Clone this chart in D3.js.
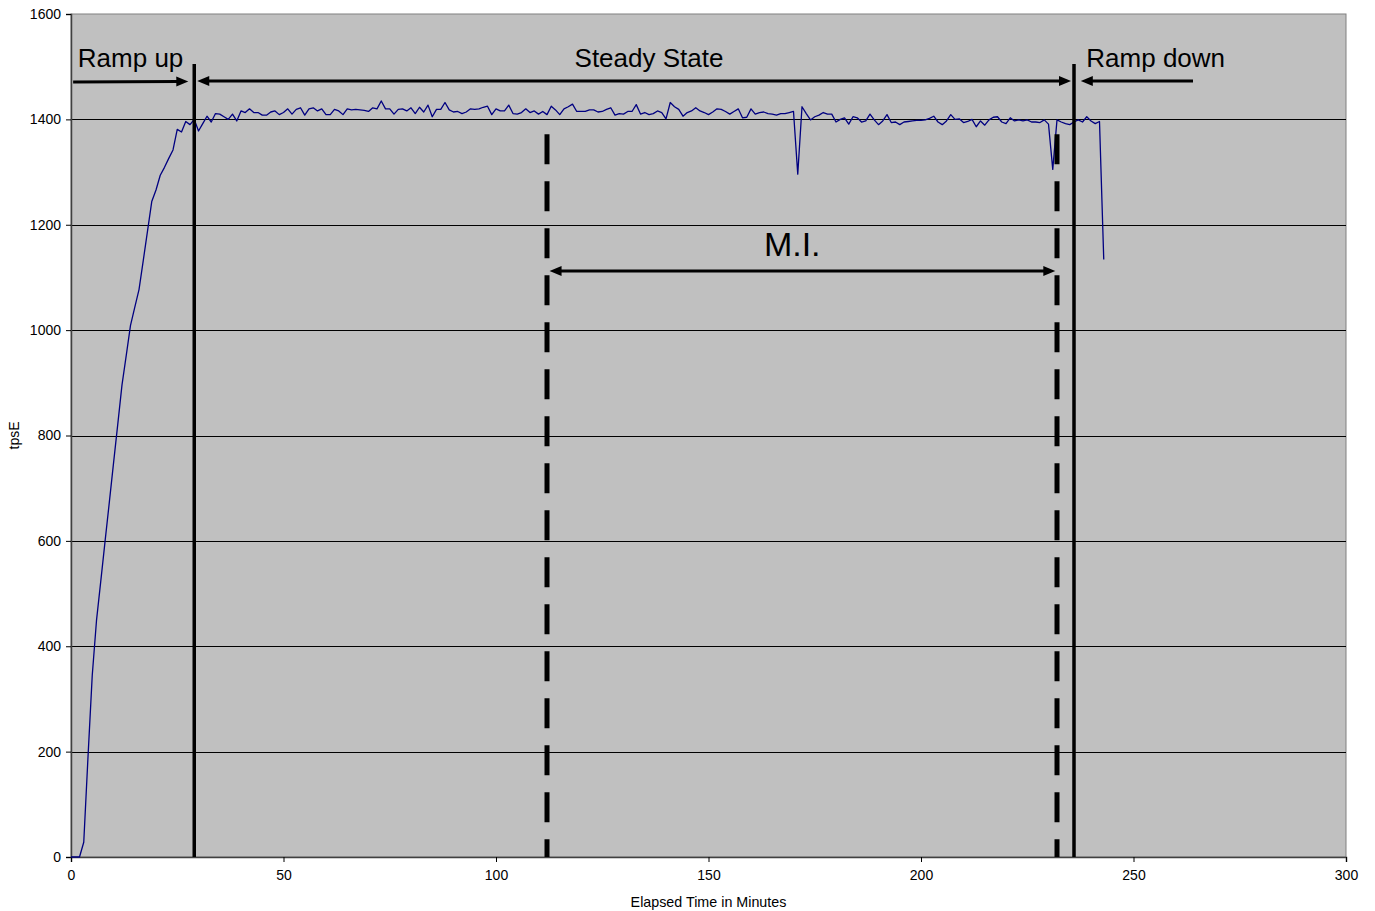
<!DOCTYPE html>
<html>
<head>
<meta charset="utf-8">
<script src="https://cdn.jsdelivr.net/npm/d3@7"></script>
<style>
  html, body { margin: 0; padding: 0; background: #ffffff; }
  svg { display: block; font-family: Arial, "Liberation Sans", sans-serif; }
</style>
</head>
<body>
<svg id="chart" width="1375" height="911"></svg>
<script>
// ---- data ----
const minutes = d3.range(0, 244); // elapsed minute of each sample
const tpsE = [
  0, 0, 0, 28, 190, 345, 449, 523, 598, 672,
  747, 821, 896, 952, 1009, 1043, 1077, 1132, 1188, 1244,
  1266, 1294, 1309, 1326, 1342, 1381, 1376, 1396, 1390, 1400,
  1378, 1392, 1406, 1395, 1411, 1410, 1405, 1400, 1410, 1397,
  1416, 1413, 1420, 1413, 1413, 1408, 1408, 1414, 1416, 1409,
  1413, 1420, 1410, 1419, 1422, 1408, 1420, 1422, 1416, 1420,
  1409, 1409, 1419, 1416, 1409, 1420, 1418, 1419, 1418, 1417,
  1415, 1422, 1420, 1435, 1420, 1420, 1410, 1419, 1420, 1416,
  1422, 1411, 1423, 1414, 1427, 1405, 1419, 1419, 1432, 1418,
  1414, 1415, 1411, 1414, 1420, 1419, 1420, 1423, 1425, 1409,
  1420, 1416, 1416, 1427, 1411, 1410, 1413, 1420, 1413, 1416,
  1410, 1415, 1409, 1425, 1418, 1409, 1420, 1424, 1429, 1415,
  1415, 1415, 1418, 1418, 1414, 1415, 1419, 1422, 1408, 1411,
  1410, 1415, 1415, 1428, 1410, 1413, 1409, 1411, 1416, 1413,
  1401, 1432, 1424, 1419, 1406, 1413, 1416, 1422, 1416, 1413,
  1409, 1414, 1420, 1419, 1415, 1410, 1415, 1420, 1403, 1404,
  1420, 1410, 1413, 1414, 1411, 1410, 1408, 1411, 1411, 1413,
  1415, 1296, 1424, 1411, 1399, 1405, 1408, 1413, 1410, 1410,
  1395, 1400, 1403, 1391, 1405, 1403, 1395, 1397, 1410, 1399,
  1390, 1397, 1409, 1394, 1395, 1390, 1395, 1396, 1397, 1398,
  1398, 1399, 1402, 1406, 1395, 1390, 1397, 1409, 1400, 1401,
  1394, 1396, 1400, 1386, 1397, 1389, 1399, 1404, 1405, 1395,
  1392, 1403, 1397, 1399, 1397, 1399, 1395, 1395, 1394, 1399,
  1391, 1305, 1399, 1395, 1392, 1390, 1395, 1399, 1395, 1405,
  1397, 1392, 1396, 1134
];
const xTicks = [0, 50, 100, 150, 200, 250, 300];
const yTicks = [0, 200, 400, 600, 800, 1000, 1200, 1400, 1600];
const xTitle = "Elapsed Time in Minutes";
const yTitle = "tpsE";

// phase boundaries (minutes) and annotation texts
const phaseBounds = [29, 236];           // solid lines
const miBounds = [112, 232];             // dashed lines (measurement interval)
const phaseLabels = ["Ramp up", "Steady State", "Ramp down"];
const miLabel = "M.I.";

// ---- layout ----
const m = { left: 71, right: 1346, top: 14, bottom: 857 };
const svg = d3.select("#chart");

const x = d3.scaleLinear().domain([0, 300]).range([m.left, m.right]);
const y = d3.scaleLinear().domain([0, 1600]).range([m.bottom, m.top]);

// plot background
svg.append("rect")
  .attr("x", m.left).attr("y", m.top)
  .attr("width", m.right - m.left).attr("height", m.bottom - m.top)
  .attr("fill", "#c0c0c0").attr("stroke", "#808080").attr("stroke-width", 1);

// gridlines
svg.append("g").selectAll("line")
  .data(yTicks.filter(t => t > 0 && t < 1600))
  .join("line")
  .attr("x1", m.left).attr("x2", m.right)
  .attr("y1", d => Math.round(y(d)) + 0.5).attr("y2", d => Math.round(y(d)) + 0.5)
  .attr("stroke", "#000").attr("stroke-width", 1);

// axes
const yAxis = d3.axisLeft(y).tickValues(yTicks).tickSize(5).tickPadding(5).tickFormat(d3.format("d"));
const xAxis = d3.axisBottom(x).tickValues(xTicks).tickSize(5).tickPadding(8).tickFormat(d3.format("d"));

const gy = svg.append("g").attr("transform", `translate(${m.left},0)`).call(yAxis);
const gx = svg.append("g").attr("transform", `translate(0,${m.bottom})`).call(xAxis);
[gx, gy].forEach(g => {
  g.select(".domain").attr("stroke", "#404040").attr("stroke-width", 1.5);
  g.selectAll(".tick line").attr("stroke", "#000");
  g.selectAll(".tick text").attr("fill", "#000")
    .style("font-size", "14px").style("font-family", "Arial, 'Liberation Sans', sans-serif");
});

// axis titles
svg.append("text")
  .attr("x", (m.left + m.right) / 2).attr("y", 907)
  .attr("text-anchor", "middle").style("font-size", "14.3px").attr("fill", "#000")
  .text(xTitle);
svg.append("text")
  .attr("transform", `translate(19,${(m.top + m.bottom) / 2}) rotate(-90)`)
  .attr("text-anchor", "middle").style("font-size", "14px").attr("fill", "#000")
  .text(yTitle);

// series line
const line = d3.line().x((d, i) => x(minutes[i])).y(d => y(d));
svg.append("path")
  .datum(tpsE)
  .attr("d", line)
  .attr("fill", "none").attr("stroke", "#000080").attr("stroke-width", 1.3)
  .attr("stroke-linejoin", "round");

// ---- annotations ----
const ann = svg.append("g");

// solid phase boundary lines
ann.selectAll("line.phase").data(phaseBounds).join("line")
  .attr("class", "phase")
  .attr("x1", d => x(d)).attr("x2", d => x(d))
  .attr("y1", y(1505)).attr("y2", y(0))
  .attr("stroke", "#000").attr("stroke-width", 3.5);

// dashed measurement-interval lines
ann.selectAll("line.mi").data(miBounds).join("line")
  .attr("class", "mi")
  .attr("x1", d => x(d)).attr("x2", d => x(d))
  .attr("y1", y(1372)).attr("y2", y(0))
  .attr("stroke", "#000").attr("stroke-width", 5)
  .attr("stroke-dasharray", "30,17");

// arrowhead drawing helper
const HEAD_L = 12, HEAD_W = 5;
function arrow(x1, y1, x2, y2, headStart, headEnd) {
  const X1 = x(x1), Y1 = y(y1), X2 = x(x2), Y2 = y(y2);
  const dx = X2 - X1, dy = Y2 - Y1, len = Math.hypot(dx, dy);
  const ux = dx / len, uy = dy / len;
  const px = -uy, py = ux;
  let sx = X1, sy = Y1, ex = X2, ey = Y2;
  if (headStart) { sx += ux * (HEAD_L - 2); sy += uy * (HEAD_L - 2); }
  if (headEnd) { ex -= ux * (HEAD_L - 2); ey -= uy * (HEAD_L - 2); }
  ann.append("line").attr("x1", sx).attr("y1", sy).attr("x2", ex).attr("y2", ey)
    .attr("stroke", "#000").attr("stroke-width", 3);
  const head = (tx, ty, dirx, diry) => {
    const bx = tx - dirx * HEAD_L, by = ty - diry * HEAD_L;
    ann.append("path")
      .attr("d", `M${tx},${ty}L${bx + px * HEAD_W},${by + py * HEAD_W}L${bx - px * HEAD_W},${by - py * HEAD_W}Z`)
      .attr("fill", "#000");
  };
  if (headEnd) head(X2, Y2, ux, uy);
  if (headStart) head(X1, Y1, -ux, -uy);
}

// Ramp up arrow (points right to first boundary)
arrow(0.5, 1471, 27.6, 1472, false, true);
// Steady state double arrow
arrow(29.7, 1473, 235.3, 1473, true, true);
// Ramp down arrow (points left to second boundary)
arrow(264, 1473, 237.6, 1473, false, true);
// M.I. double arrow
arrow(112.6, 1112, 231.6, 1112, true, true);

// labels
const labelFont = "26px";
ann.append("text").attr("x", x(1.6)).attr("y", y(1500))
  .style("font-size", labelFont).attr("fill", "#000").text(phaseLabels[0]);
ann.append("text").attr("x", x(136)).attr("y", y(1500)).attr("text-anchor", "middle")
  .style("font-size", labelFont).attr("fill", "#000").text(phaseLabels[1]);
ann.append("text").attr("x", x(238.9)).attr("y", y(1500))
  .style("font-size", labelFont).attr("fill", "#000").text(phaseLabels[2]);
ann.append("text").attr("x", x(169.7)).attr("y", y(1141)).attr("text-anchor", "middle")
  .style("font-size", "34px").attr("fill", "#000").text(miLabel);
</script>
</body>
</html>
